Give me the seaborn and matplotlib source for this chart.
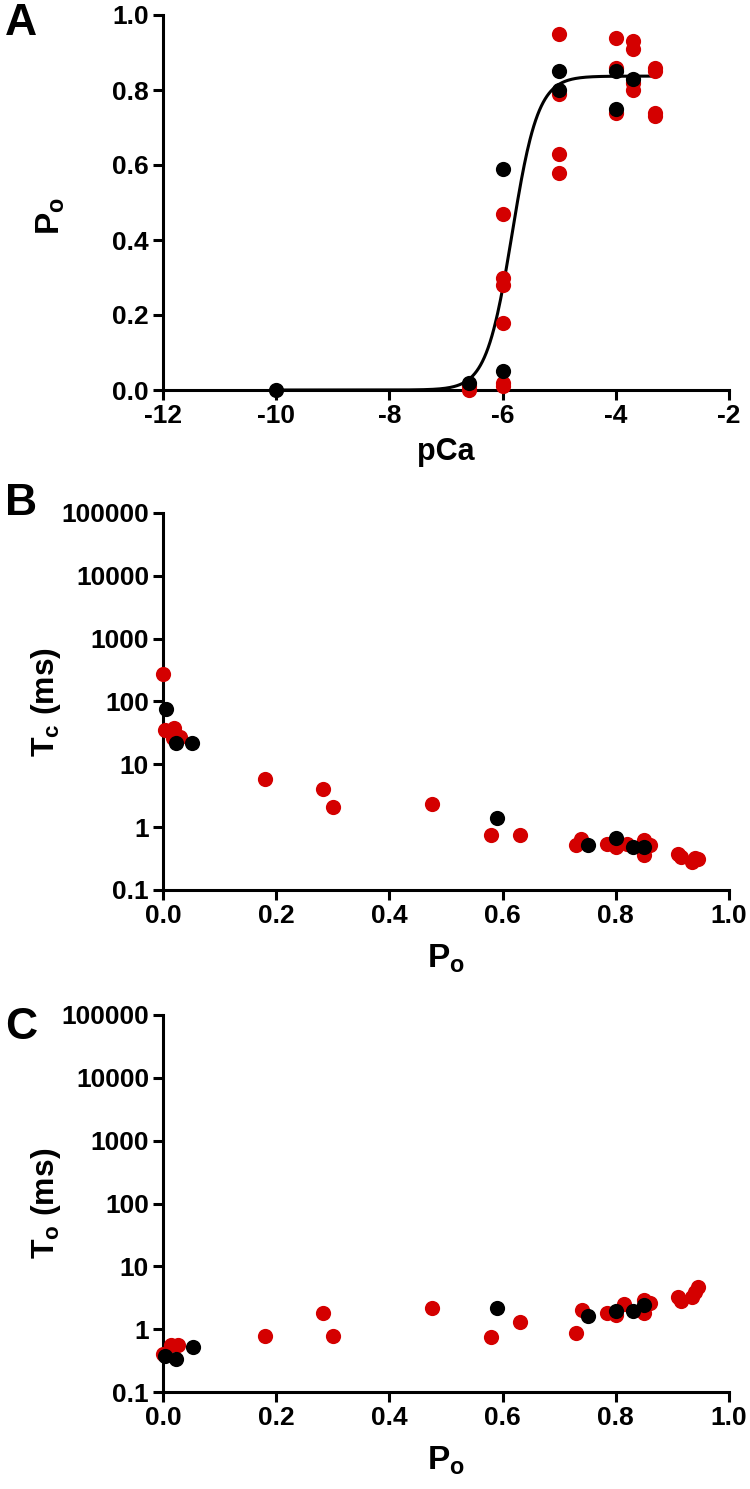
import numpy as np
import pandas as pd
import seaborn as sns
import matplotlib.pyplot as plt
from matplotlib.ticker import FixedLocator, FuncFormatter

# values
# panel A: open probability vs pCa
a_red_pca = [-6.6, -6.6, -6, -6, -6, -6, -6, -6, -5, -5, -5, -5, -4, -4, -4,
             -3.7, -3.7, -3.7, -3.7, -3.3, -3.3, -3.3, -3.3]
a_red_po = [0.0, 0.01, 0.47, 0.30, 0.28, 0.18, 0.02, 0.01, 0.95, 0.79, 0.63, 0.58,
            0.94, 0.86, 0.74, 0.93, 0.91, 0.82, 0.80, 0.86, 0.85, 0.74, 0.73]
a_blk_pca = [-10, -6.6, -6, -6, -5, -5, -4, -4, -3.7]
a_blk_po = [0.0, 0.02, 0.59, 0.05, 0.85, 0.80, 0.85, 0.75, 0.83]

# Hill fit parameters for the curve in A
fit_top = 0.837
fit_ec50 = -5.83
fit_n = 1.9

# panel B: closed time vs Po
b_red_po = [0.0, 0.003, 0.02, 0.018, 0.03, 0.18, 0.283, 0.30, 0.475, 0.58, 0.63,
            0.73, 0.738, 0.785, 0.80, 0.82, 0.85, 0.86, 0.85, 0.91, 0.915, 0.94,
            0.945, 0.935]
b_red_tc = [270, 35, 38, 26, 27, 5.9, 4.1, 2.1, 2.35, 0.74, 0.74, 0.52, 0.66,
            0.53, 0.48, 0.53, 0.62, 0.52, 0.36, 0.37, 0.34, 0.32, 0.31, 0.28]
b_blk_po = [0.005, 0.023, 0.051, 0.59, 0.75, 0.80, 0.83, 0.85]
b_blk_tc = [77, 22, 22, 1.4, 0.52, 0.67, 0.48, 0.48]

# panel C: open time vs Po
c_red_po = [0.0, 0.015, 0.027, 0.18, 0.283, 0.30, 0.475, 0.58, 0.63, 0.73, 0.74,
            0.785, 0.80, 0.815, 0.85, 0.86, 0.85, 0.91, 0.915, 0.935, 0.94, 0.945]
c_red_to = [0.40, 0.55, 0.55, 0.77, 1.8, 0.78, 2.15, 0.75, 1.3, 0.86, 2.0, 1.8,
            1.7, 2.5, 2.9, 2.6, 1.8, 3.2, 2.8, 3.2, 3.9, 4.7]
c_blk_po = [0.003, 0.023, 0.053, 0.59, 0.75, 0.80, 0.83, 0.85]
c_blk_to = [0.38, 0.33, 0.52, 2.15, 1.6, 1.95, 1.95, 2.4]

RED = '#d40000'
BLACK = '#000000'

sns.set_style('ticks')
plt.rcParams['font.family'] = ['Liberation Sans', 'DejaVu Sans']
plt.rcParams['font.weight'] = 'bold'
plt.rcParams['axes.labelweight'] = 'bold'
plt.rcParams['axes.unicode_minus'] = False
plt.rcParams['mathtext.fontset'] = 'custom'
plt.rcParams['mathtext.bf'] = 'Liberation Sans:bold'
plt.rcParams['mathtext.rm'] = 'Liberation Sans:bold'
for k in ['text.color', 'axes.labelcolor', 'xtick.color', 'ytick.color', 'axes.edgecolor']:
    plt.rcParams[k] = 'black'

fig = plt.figure(figsize=(7.5, 14.89), dpi=100)
L, W = 163 / 750, 566 / 750
H = 1489
axA = fig.add_axes([L, 1 - 390 / H, W, 375 / H])
axB = fig.add_axes([L, 1 - 890 / H, W, 377 / H])
axC = fig.add_axes([L, 1 - 1392 / H, W, 377 / H])

MS = 120


def style(ax):
    sns.despine(ax=ax)
    for s in ['left', 'bottom']:
        ax.spines[s].set_linewidth(2.2)
    ax.tick_params(width=2.2, length=7, labelsize=19, pad=3, colors='black')
    for lab in ax.get_xticklabels() + ax.get_yticklabels():
        lab.set_fontweight('bold')


# --- A ---
xfit = np.linspace(-10, -3.3, 400)
yfit = fit_top / (1 + 10 ** (fit_n * (fit_ec50 - xfit)))
sns.lineplot(x=xfit, y=yfit, ax=axA, color='black', linewidth=2.2, zorder=2)
sns.scatterplot(x=a_red_pca, y=a_red_po, ax=axA, color=RED, s=MS, linewidth=0,
                zorder=3, clip_on=False)
sns.scatterplot(x=a_blk_pca, y=a_blk_po, ax=axA, color=BLACK, s=MS, linewidth=0,
                zorder=4, clip_on=False)
axA.set_xlim(-12, -2)
axA.set_ylim(0, 1.0)
axA.set_xticks(np.arange(-12, -1, 2))
axA.set_yticks(np.arange(0, 1.01, 0.2))
axA.yaxis.set_major_formatter(FuncFormatter(lambda v, p: f'{v:.1f}'))
axA.set_xlabel('pCa', fontsize=22, fontweight='bold')
axA.set_ylabel(r'$\mathbf{P_o}$', fontsize=24)
axA.xaxis.set_label_coords(0.5, -0.125)
axA.yaxis.set_label_coords(-0.17, 0.465)
style(axA)

# --- B and C ---
for ax, rx, ry, bx, by, lab in [
        (axB, b_red_po, b_red_tc, b_blk_po, b_blk_tc, r'$\mathbf{T_c}$ (ms)'),
        (axC, c_red_po, c_red_to, c_blk_po, c_blk_to, r'$\mathbf{T_o}$ (ms)')]:
    sns.scatterplot(x=rx, y=ry, ax=ax, color=RED, s=MS, linewidth=0, zorder=3,
                    clip_on=False)
    sns.scatterplot(x=bx, y=by, ax=ax, color=BLACK, s=MS, linewidth=0, zorder=4,
                    clip_on=False)
    ax.set_yscale('log')
    ax.set_xlim(0, 1.0)
    ax.set_ylim(0.1, 100000)
    ax.set_xticks(np.arange(0, 1.01, 0.2))
    ax.xaxis.set_major_formatter(FuncFormatter(lambda v, p: f'{v:.1f}'))
    ax.yaxis.set_major_locator(FixedLocator([0.1, 1, 10, 100, 1000, 10000, 100000]))
    ax.yaxis.set_minor_locator(FixedLocator([]))
    ax.yaxis.set_major_formatter(FuncFormatter(lambda v, p: f'{v:g}' if v < 1 else f'{int(round(v))}'))
    ax.set_xlabel(r'$\mathbf{P_o}$', fontsize=24)
    ax.set_ylabel(lab, fontsize=23, fontweight='bold')
    ax.xaxis.set_label_coords(0.5, -0.14)
    ax.yaxis.set_label_coords(-0.177, 0.5)
    style(ax)

# panel letters
for txt, y in [('A', 3), ('B', 483), ('C', 1007)]:
    fig.text(5 / 750, 1 - y / H, txt, fontsize=32, fontweight='bold', va='top', ha='left')

fig.savefig('out.png', dpi=100)
